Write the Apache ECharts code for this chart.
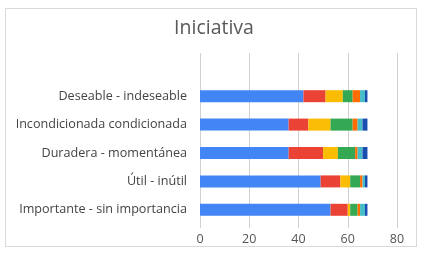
<!DOCTYPE html>
<html>
<head>
<meta charset="utf-8">
<script src="https://cdn.jsdelivr.net/npm/echarts@6/dist/echarts.min.js"></script>
<style>
  html, body { margin: 0; padding: 0; background: #fff; }
  #frame { position: absolute; left: 5px; top: 8px; width: 412px; height: 239px; border: 1px solid #d9d9d9; box-sizing: border-box; }
  #chart { position: absolute; left: 0; top: 0; width: 428px; height: 257px; }
</style>
</head>
<body>
<div id="frame"></div>
<div id="chart"></div>
<script>
// categories, bottom to top
const categories = ['Importante - sin importancia', 'Útil - inútil', 'Duradera - momentánea', 'Incondicionada condicionada', 'Deseable - indeseable']
const s1 = [53, 49, 36, 36, 42]
const s2 = [7, 8, 14, 8, 9]
const s3 = [1, 4, 6, 9, 7]
const s4 = [3, 4, 7, 9, 4]
const s5 = [1, 1, 1, 2, 3]
const s6 = [2, 1, 2, 2, 2]
const s7 = [1, 1, 2, 2, 1]
const seriesData = [s1, s2, s3, s4, s5, s6, s7]
const colors = ['#4285F4', '#EA4335', '#FBBC04', '#34A853', '#FF6D01', '#46BDC6', '#1A4DB0']
const xTicks = [0, 20, 40, 60, 80]

const chart = echarts.init(document.getElementById('chart'), null, { renderer: 'canvas' })

const font = '"Open Sans", Roboto, Arial, sans-serif'

const option = {
  animation: false,
  title: {
    text: 'Iniciativa',
    left: 'center',
    top: 13,
    textStyle: { fontFamily: font, fontSize: 19.5, fontWeight: 'normal', color: '#595959' },
  },
  grid: [
    { left: 200, width: 197, top: 53, height: 175 },
    { left: 200, width: 197, top: 82, height: 142 },
  ],
  xAxis: [
    {
      gridIndex: 0,
      type: 'value',
      min: xTicks[0],
      max: xTicks[xTicks.length - 1],
      interval: 20,
      axisLine: { show: false },
      axisTick: { show: false },
      axisLabel: { fontFamily: font, fontSize: 12.5, color: '#555', margin: 5 },
      splitLine: { lineStyle: { color: '#d0d0d0', width: 1 } },
    },
    {
      gridIndex: 1,
      type: 'value',
      min: xTicks[0],
      max: xTicks[xTicks.length - 1],
      show: false,
      splitLine: { show: false },
    },
  ],
  yAxis: [
    {
      gridIndex: 0,
      type: 'category',
      data: [],
      show: false,
    },
    {
      gridIndex: 1,
      type: 'category',
      data: categories,
      axisLine: { show: false },
      axisTick: { show: false },
      axisLabel: { fontFamily: font, fontSize: 12.6, color: '#444', margin: 13 },
    },
  ],
  series: seriesData.map((d, i) => ({
    type: 'bar',
    xAxisIndex: 1,
    yAxisIndex: 1,
    stack: 'total',
    data: d,
    barWidth: 12,
    itemStyle: { color: colors[i] },
  })),
}

chart.setOption(option)
</script>
</body>
</html>
